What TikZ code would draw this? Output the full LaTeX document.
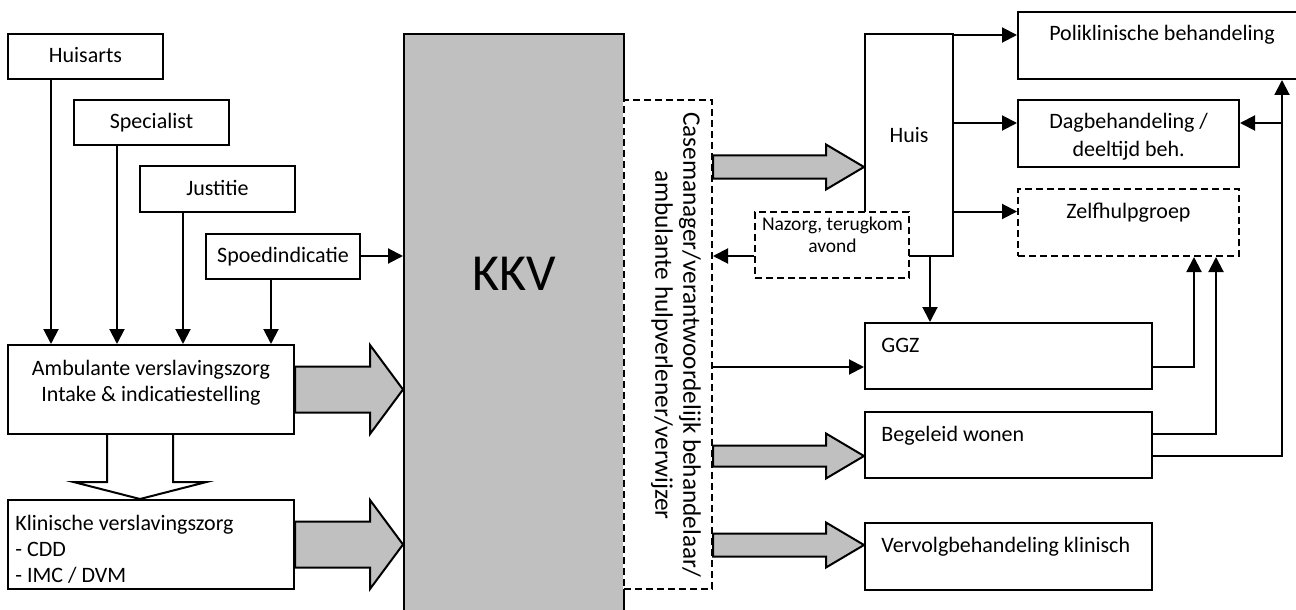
\documentclass[tikz,border=0pt]{standalone}
\usepackage{fontspec}
\setmainfont{Carlito}
\usetikzlibrary{arrows.meta,calc}
\definecolor{kgrey}{HTML}{C0C0C0}

% grey block arrow: #1 start, #2 tip, #3 half shaft, #4 half head, #5 head length
\newcommand\blockarrow[5]{%
  \draw[barrow] let \p1=(#1), \p2=(#2) in
    (\x1,\y1+#3) -- (\x2-#5,\y1+#3) -- (\x2-#5,\y1+#4) -- (\x2,\y1)
    -- (\x2-#5,\y1-#4) -- (\x2-#5,\y1-#3) -- (\x1,\y1-#3) -- cycle;}

\tikzset{
  box/.style={draw, line width=1pt, fill=white, inner sep=0pt,
    text height=8.5pt, text depth=2pt},
  dbox/.style={box, dash pattern=on 3.5pt off 2pt},
  arr/.style={line width=1pt, -{Triangle[length=7.5pt,width=7.5pt]}},
  barrow/.style={line width=1pt, draw=black, fill=kgrey, line join=miter},
  txt/.style={inner sep=0pt, anchor=base},
}

\begin{document}
\begin{tikzpicture}[x=0.5pt, y=-0.5pt,
  every node/.append style={font=\fontsize{11pt}{13pt}\selectfont}]
\clip (0,0) rectangle (1296,610);

% central block and case manager strip
\node[box, fill=kgrey, minimum width=110pt, minimum height=303pt] (kkv) at (514,337) {};
\node[txt, font=\fontsize{26pt}{30pt}\selectfont] (kkv-t) at (514,290) {KKV};
\draw[white, line width=1.2pt] (624,100) -- (624,589);
\node[dbox, minimum width=44pt, minimum height=244.5pt] (cm) at (668,344.5) {};
\node[rotate=-90, align=center, inner sep=0pt, font=\fontsize{12.6pt}{14pt}\selectfont] (cm-t) at (676,345)
  {Casemanager/verantwoordelijk behandelaar/\\ambulante hulpverlener/verwijzer};

% referrers
\node[box, minimum width=77.5pt, minimum height=22.5pt] (hua) at (85.5,56.5) {Huisarts};
\node[box, minimum width=77.5pt, minimum height=22.5pt] (spec) at (151.5,122.5) {Specialist};
\node[box, minimum width=77.5pt, minimum height=22.5pt] (just) at (217.5,189) {Justitie};
\node[box, minimum width=77pt, minimum height=22.5pt] (spoed) at (283,256) {Spoedindicatie};

% addiction care
\node[box, minimum width=143pt, minimum height=44.5pt] (amb) at (151,389.5) {};
\node[txt, align=center] (amb-t) at (151,401) {Ambulante verslavingszorg\\Intake \& indicatiestelling};
\node[box, minimum width=143pt, minimum height=44.5pt] (klin) at (151,544.5) {};
\node[txt, align=left, anchor=base west] (klin-t) at (15,582) {Klinische verslavingszorg\\- CDD\\- IMC / DVM};

% right hand side
\node[box, minimum width=44pt, minimum height=111pt] (huis) at (909,145) {};
\node[txt] (huis-t) at (909,142.7) {Huis};
\node[dbox, minimum width=77pt, minimum height=33pt] (naz) at (832,245) {};
\node[txt, align=center, font=\fontsize{9.75pt}{10.8pt}\selectfont] (naz-t) at (832.5,252.3) {Nazorg, terugkom\\avond};

\node[box, minimum width=144pt, minimum height=33.5pt] (poli) at (1162,45.5) {};
\node[txt] (poli-t) at (1162,40.5) {Poliklinische behandeling};
\node[box, minimum width=110.5pt, minimum height=33.5pt] (dag) at (1128.5,133.5) {};
\node[txt, align=center, font=\fontsize{11pt}{13.5pt}\selectfont] (dag-t) at (1128.7,156) {Dagbehandeling /\\deeltijd beh.};
\node[dbox, minimum width=110.5pt, minimum height=33.5pt] (zelf) at (1128.5,222.5) {};
\node[txt] (zelf-t) at (1128.5,218) {Zelfhulpgroep};

\node[box, minimum width=143.5pt, minimum height=33pt] (ggz) at (1008.5,356) {};
\node[txt, anchor=base west] (ggz-t) at (881,352) {GGZ};
\node[box, minimum width=143.5pt, minimum height=33pt] (beg) at (1008.5,445) {};
\node[txt, anchor=base west] (beg-t) at (881,441) {Begeleid wonen};
\node[box, minimum width=143.5pt, minimum height=33.5pt] (verv) at (1008.5,556.5) {};
\node[txt, anchor=base west] (verv-t) at (881,552) {Vervolgbehandeling klinisch};

% referrer arrows
\coordinate (h1) at ([xshift=22pt]hua.south west);
\coordinate (s1) at ([xshift=22pt]spec.south west);
\coordinate (j1) at ([xshift=22pt]just.south west);
\coordinate (p1) at ([xshift=33pt]spoed.south west);
\draw[arr] (h1) -- (h1 |- amb.north);
\draw[arr] (s1) -- (s1 |- amb.north);
\draw[arr] (j1) -- (j1 |- amb.north);
\draw[arr] (p1) -- (p1 |- amb.north);
\draw[arr] (spoed.east) -- (spoed.east -| kkv.west);

% block arrows into the central block
\blockarrow{amb.east}{amb.east -| kkv.west}{11.5pt}{22.25pt}{16.5pt}
\blockarrow{klin.east}{klin.east -| kkv.west}{11.5pt}{22.25pt}{16.5pt}

% open arrow from outpatient to clinical care
\coordinate (od) at ([xshift=-5.5pt]amb.south);
\fill[white] let \p1=(od), \p2=(od |- klin.north) in
  (\x1-16.5pt,\y1) -- (\x1-16.5pt,\y2+8.5pt) -- (\x1-33.25pt,\y2+8.5pt) -- (\x2,\y2)
  -- (\x1+33.25pt,\y2+8.5pt) -- (\x1+16.5pt,\y2+8.5pt) -- (\x1+16.5pt,\y1) -- cycle;
\draw[line width=1pt, line join=miter] let \p1=(od), \p2=(od |- klin.north) in
  (\x1-16.5pt,\y1) -- (\x1-16.5pt,\y2+8.5pt) -- (\x1-33.25pt,\y2+8.5pt) -- (\x2,\y2)
  -- (\x1+33.25pt,\y2+8.5pt) -- (\x1+16.5pt,\y2+8.5pt) -- (\x1+16.5pt,\y1);

% block arrows out of the case manager strip
\coordinate (hin) at ([yshift=-11pt]huis.west);
\coordinate (bin) at ([yshift=-5.5pt]beg.west);
\coordinate (vin) at ([yshift=5.75pt]verv.west);
\blockarrow{hin -| cm.east}{hin}{5.75pt}{11.25pt}{19pt}
\blockarrow{bin -| cm.east}{bin}{5.25pt}{11.25pt}{19pt}
\blockarrow{vin -| cm.east}{vin}{5.75pt}{11.25pt}{19pt}

% aftercare back to the case manager
\coordinate (nin) at ([yshift=-5.5pt]naz.west);
\draw[arr] (nin) -- (nin -| cm.east);
\coordinate (gin) at ([yshift=-5.5pt]ggz.west);
\draw[arr] (gin -| cm.east) -- (gin);

% from home
\coordinate (pin) at ([yshift=5.25pt]poli.west);
\coordinate (din) at ([yshift=5.25pt]dag.west);
\coordinate (zin) at ([yshift=5.5pt]zelf.west);
\draw[arr] (huis.east |- pin) -- (pin);
\draw[arr] (huis.east |- din) -- (din);
\draw[arr] (huis.east |- zin) -- (zin);
\coordinate (hg) at ([xshift=33pt]huis.south west);
\draw[arr] (hg) -- (hg |- ggz.north);

% feedback lines on the right
\coordinate (z1) at ([xshift=88.5pt]zelf.south west);
\coordinate (z2) at ([xshift=99.5pt]zelf.south west);
\coordinate (p2) at ([xshift=132.5pt]poli.south west);
\coordinate (gout) at ([yshift=-5.5pt]ggz.east);
\coordinate (bout1) at ([yshift=5.5pt]beg.east);
\coordinate (bout2) at ([yshift=-5.5pt]beg.east);
\coordinate (dout) at ([yshift=5.25pt]dag.east);
\draw[arr] (gout) -| (z1);
\draw[arr] (bout1) -| (z2);
\draw[arr] (bout2) -| (p2);
\draw[arr] (p2 |- dout) -- (dout);
\end{tikzpicture}
\end{document}
